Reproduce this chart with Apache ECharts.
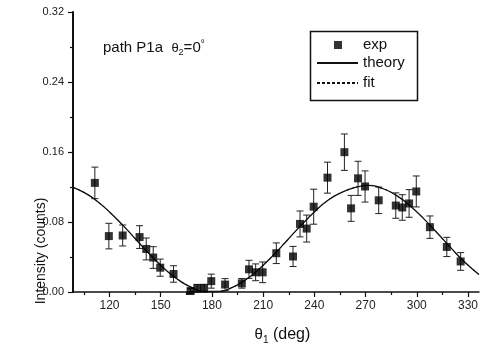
<!DOCTYPE html>
<html>
<head>
<meta charset="utf-8">
<script src="https://cdn.jsdelivr.net/npm/echarts@6/dist/echarts.min.js"></script>
<style>
html,body{margin:0;padding:0;background:#fff;}
#chart{width:481px;height:350px;}
</style>
</head>
<body>
<div id="chart"></div>
<script>
// experimental points (theta1 in deg, intensity, error half-width)
var expDeg = [111.4,119.6,127.7,137.6,141.5,145.6,149.7,157.5,167.5,171.4,175.4,179.6,187.7,197.5,201.7,205.6,209.7,217.7,227.5,231.6,235.5,239.6,247.7,257.6,261.5,265.6,269.7,277.7,287.7,291.5,295.5,299.7,307.7,317.6,325.7];
var expVal = [0.1247,0.0639,0.0646,0.0628,0.0492,0.0394,0.0278,0.0206,0.0011,0.0042,0.0043,0.0124,0.0085,0.0099,0.0259,0.0225,0.0225,0.0443,0.0406,0.0778,0.0725,0.0975,0.1307,0.1598,0.0956,0.1299,0.1206,0.1048,0.0988,0.0966,0.1012,0.1149,0.0741,0.0515,0.0349];
var expErr = [0.018,0.0146,0.012,0.013,0.0125,0.0124,0.0098,0.0094,0.003,0.0045,0.0045,0.008,0.0068,0.0055,0.0103,0.0096,0.0118,0.0118,0.0115,0.0148,0.0154,0.02,0.0177,0.0208,0.0148,0.0195,0.0178,0.0152,0.0145,0.0146,0.0158,0.0177,0.0128,0.011,0.0101];
// theory curve
var theoryDeg = [98.6,105,112,120,128,136,144,152,160,168,176,184,192,200,208,216,224,232,240,248,256,264,272,280,288,296,304,312,320,328,336.4];
var theoryVal = [0.1196,0.1138,0.1049,0.0915,0.0758,0.0589,0.0421,0.0269,0.0143,0.0053,0.0006,0.0006,0.0053,0.0143,0.0269,0.0421,0.0589,0.0758,0.0915,0.1049,0.1138,0.1196,0.1219,0.1183,0.1104,0.0986,0.0839,0.0674,0.0504,0.0342,0.0200];
// fit curve (coincides with theory in the picture)
var fitVal = theoryVal.slice();
// tick labels
var xMajorTicks = [120,150,180,210,240,270,300,330];
var xMinorTicks = [105,135,165,195,225,255,285,315];

var FONT = 'Liberation Sans, Arial, Helvetica, sans-serif';
var chart = echarts.init(document.getElementById('chart'));

var errData = expDeg.map(function(d,i){return [d, expVal[i], expErr[i]];});
var expData = expDeg.map(function(d,i){return [d, expVal[i]];});
var theoryData = theoryDeg.map(function(d,i){return [d, theoryVal[i]];});
var fitData = theoryDeg.map(function(d,i){return [d, fitVal[i]];});

var option = {
  backgroundColor:'#fff',
  animation:false,
  textStyle:{fontFamily:FONT},
  title:{
    left:98, top:34,
    text:'path P1a  {t|θ}{s|2}{n|=0}{d|°}',
    textStyle:{
      fontFamily:FONT, fontSize:15, fontWeight:'normal', color:'#111',
      rich:{
        t:{fontFamily:FONT,fontSize:13,color:'#111'},
        s:{fontFamily:FONT,fontSize:9,color:'#111',verticalAlign:'bottom',padding:[8,0,0,0]},
        n:{fontFamily:FONT,fontSize:15,color:'#111'},
        d:{fontFamily:FONT,fontSize:10,color:'#111',verticalAlign:'top',padding:[0,0,8,0]}
      }
    }
  },
  legend:[
    {
      data:['exp'], left:334, top:36, padding:0,
      itemWidth:8, itemHeight:8, icon:'rect',
      textStyle:{fontFamily:FONT,fontSize:15,color:'#111',lineHeight:18,padding:[0,0,0,16]}
    },
    {
      data:['theory','fit'], orient:'vertical', left:316, top:54, padding:0, itemGap:2,
      itemWidth:41, itemHeight:10,
      itemStyle:{opacity:0, borderWidth:0},
      textStyle:{fontFamily:FONT,fontSize:15,color:'#111',lineHeight:18}
    }
  ],
  graphic:[
    {type:'rect', left:308, top:29, shape:{width:107,height:69}, style:{fill:null, stroke:'#111', lineWidth:1.5}, z:100},
    {type:'text', x:41, y:251, rotation:Math.PI/2,
     style:{text:'Intensity (counts)', fontFamily:FONT, fontSize:14, fill:'#111', align:'center', verticalAlign:'middle'}}
  ],
  grid:{left:73, top:12, right:0, bottom:54},
  xAxis:[
    {
      type:'value', min:98.6, max:336.4,
      name:'{t|θ}{s|1}{n| (deg)}', nameLocation:'middle', nameGap:33,
      nameTextStyle:{padding:[0,0,0,13], rich:{
        t:{fontFamily:FONT,fontSize:15,color:'#111'},
        s:{fontFamily:FONT,fontSize:10,color:'#111',verticalAlign:'bottom',padding:[10,0,0,0]},
        n:{fontFamily:FONT,fontSize:16,color:'#111'}
      }},
      axisLine:{show:true, onZero:false, lineStyle:{color:'#111', width:1.5}},
      axisTick:{show:true, inside:false, length:5, customValues:xMajorTicks, lineStyle:{color:'#111', width:1.2}},
      axisLabel:{show:true, customValues:xMajorTicks, margin:8, fontFamily:FONT, fontSize:12, color:'#222'},
      splitLine:{show:false}
    },
    {
      type:'value', min:98.6, max:336.4, gridIndex:0, position:'bottom',
      axisLine:{show:false},
      axisTick:{show:true, inside:false, length:3, customValues:xMinorTicks, lineStyle:{color:'#111', width:1.2}},
      axisLabel:{show:false},
      splitLine:{show:false}
    }
  ],
  yAxis:{
    type:'value', min:0, max:0.32, interval:0.08,
    axisLine:{show:true, lineStyle:{color:'#111', width:2}},
    axisTick:{show:true, inside:false, length:5, lineStyle:{color:'#111', width:1.2}},
    minorTick:{show:true, splitNumber:2, length:3, lineStyle:{color:'#111', width:1.2}},
    axisLabel:{margin:9, fontFamily:FONT, fontSize:11, color:'#222', formatter:function(v){return v.toFixed(2);}},
    splitLine:{show:false}
  },
  series:[
    {
      name:'errors', type:'custom', xAxisIndex:0, data:errData, clip:false, z:2,
      encode:{x:0, y:1},
      renderItem:function(params, api){
        var x=api.value(0), y=api.value(1), e=api.value(2);
        var top=api.coord([x,y+e]); var bot=api.coord([x,y-e]);
        var w=3.5;
        var st={stroke:'#222', lineWidth:1};
        return {type:'group', children:[
          {type:'line', shape:{x1:top[0],y1:top[1],x2:bot[0],y2:bot[1]}, style:st},
          {type:'line', shape:{x1:top[0]-w,y1:top[1],x2:top[0]+w,y2:top[1]}, style:st},
          {type:'line', shape:{x1:bot[0]-w,y1:bot[1],x2:bot[0]+w,y2:bot[1]}, style:st}
        ]};
      }
    },
    {
      name:'theory', type:'line', xAxisIndex:0, data:theoryData, smooth:true, symbol:'none', z:3,
      lineStyle:{color:'#111', width:1.3, type:'solid'}, itemStyle:{color:'#111'}
    },
    {
      name:'fit', type:'line', xAxisIndex:0, data:fitData, smooth:true, symbol:'none', z:3,
      lineStyle:{color:'#111', width:1, type:[3,2]}, itemStyle:{color:'#111'}
    },
    {
      name:'exp', type:'scatter', xAxisIndex:0, data:expData, symbol:'rect', symbolSize:8, z:5,
      itemStyle:{color:'#000'}
    }
  ]
};
chart.setOption(option);
</script>
</body>
</html>
